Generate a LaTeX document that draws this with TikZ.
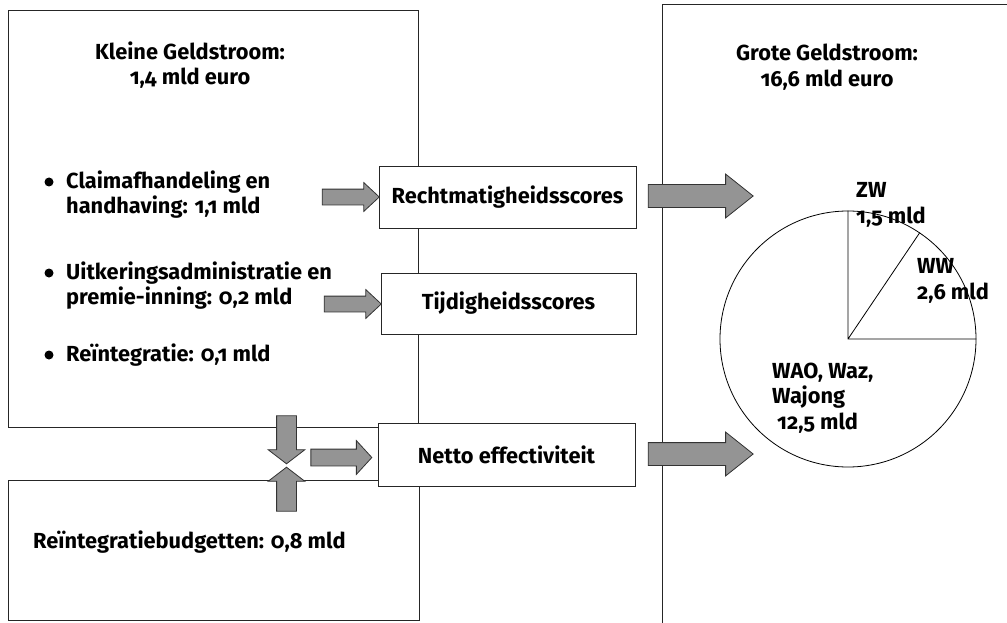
\documentclass[tikz,border=0pt]{standalone}
\usepackage{fontspec}
\setmainfont{Fira Sans}[Numbers=OldStyle]
\usepackage{tikz}
\usetikzlibrary{positioning,shapes.arrows}

\begin{document}
\begin{tikzpicture}
[x=1pt, y=-1pt,
 every node/.style={font=\bfseries\fontsize{21.8}{25.5}\selectfont, inner sep=0pt},
 stream/.style={draw=black!85, line width=1pt},
 score/.style={stream, fill=white},
 flow/.style={single arrow, draw=black!80, fill=black!42, line width=.8pt, inner xsep=0pt},
 dot/.style={circle, fill=black, minimum size=9pt}]
\clip (0,0) rectangle (1007,623);
% geldstromen
\node[stream, minimum width=410pt, minimum height=416pt] (kleine) at (213,219) {};
\node[stream, minimum width=411pt, minimum height=140pt] (budget) at (213.5,550) {};
\node[stream, minimum width=360pt, minimum height=640pt] (grote) at (842,325) {};
\node[align=center] (kleinetitel) at (190,65) {Kleine Geldstroom:\\1,4 mld euro};
\node[align=center] (grotetitel) at (827,67) {Grote Geldstroom:\\16,6 mld euro};
\node[anchor=west] (budgettekst) at (33,542) {Reïntegratiebudgetten: 0,8 mld};
% posten
\node[dot] (da) at (49,182) {};
\node[anchor=west, align=left] (claim) at (66,194.5) {Claimafhandeling en\\handhaving: 1,1 mld};
\node[dot] (db) at (49,273) {};
\node[anchor=west, align=left] (uitk) at (66,285.5) {Uitkeringsadministratie en\\premie-inning: 0,2 mld};
\node[dot] (dc) at (49,355) {};
\node[anchor=west] (reint) at (66,355) {Reïntegratie: 0,1 mld};
% scores
\node[score, minimum width=257pt, minimum height=61pt] (recht) at (507.5,197.5) {Rechtmatigheidsscores};
\node[score, minimum width=255pt, minimum height=61pt] (tijd) at (508.5,303.5) {Tijdigheidsscores};
\node[score, minimum width=257pt, minimum height=63pt] (netto) at (506.5,454.5) {Netto effectiviteit};
% pijlen
\node[flow, minimum height=57pt, inner ysep=7.5pt, single arrow head extend=6.5pt, single arrow tip angle=86] (p1) at (346.5,197) {};
\node[flow, minimum height=57pt, inner ysep=7.5pt, single arrow head extend=6.5pt, single arrow tip angle=86] (p2) at (348.5,304) {};
\node[flow, minimum height=61pt, inner ysep=8pt, single arrow head extend=8.5pt, single arrow tip angle=95] (p3) at (337.5,457.5) {};
\node[flow, minimum height=48pt, inner ysep=9.5pt, single arrow head extend=8.5pt, single arrow tip angle=105, rotate=-90] (pdown) at (286.5,436) {};
\node[flow, minimum height=44pt, inner ysep=9.5pt, single arrow head extend=8.5pt, single arrow tip angle=105, rotate=90] (pup) at (286.5,493) {};
\node[flow, minimum height=105pt, inner ysep=11pt, single arrow head extend=10.5pt, single arrow tip angle=77] (p4) at (693.5,196) {};
\node[flow, minimum height=105pt, inner ysep=11pt, single arrow head extend=10.5pt, single arrow tip angle=77] (p5) at (693.5,454) {};
% taart
\node[circle, draw=black, line width=.8pt, minimum size=256pt] (pie) at (848,339) {};
\draw[line width=.8pt] (pie.north) -- (pie.center) -- (pie.east)
  (pie.center) -- (pie.56);
\node[anchor=west, align=left] (zw) at (856,205) {ZW\\1,5 mld};
\node[anchor=west, align=left] (ww) at (917,281) {WW\\2,6 mld};
\node[anchor=west, align=left] (wao) at (772,398) {WAO, Waz,\\Wajong\\\hspace{5pt}12,5 mld};
\end{tikzpicture}
\end{document}
